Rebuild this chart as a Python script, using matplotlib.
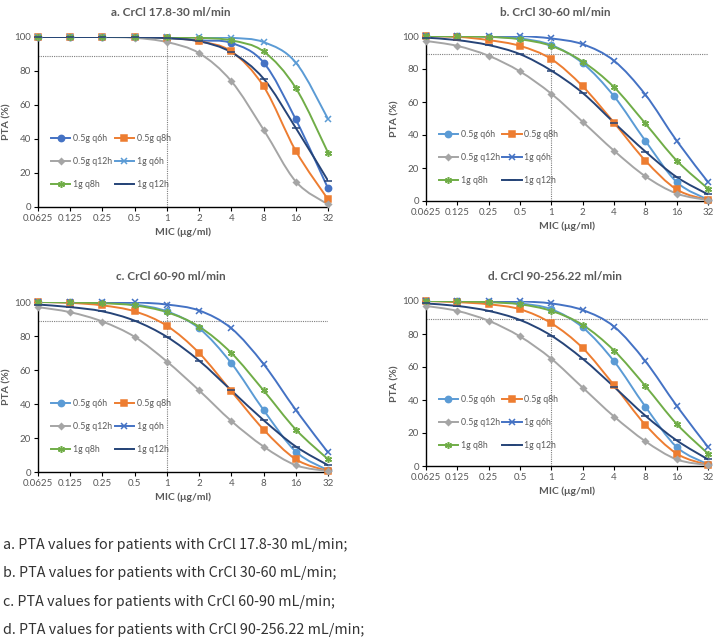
import matplotlib

matplotlib.use("Agg")

import matplotlib.pyplot as plt
import numpy as np
from matplotlib.lines import Line2D
from matplotlib.patches import PathPatch
from matplotlib.path import Path

plt.rcParams["font.family"] = ["Lato", "DejaVu Sans"]

W, H = 716, 640

MIC = ["0.0625", "0.125", "0.25", "0.5", "1", "2", "4", "8", "16", "32"]
REGIMENS = ["0.5g q6h", "0.5g q8h", "0.5g q12h", "1g q6h", "1g q8h", "1g q12h"]
TARGET = 89

# PTA (%) per regimen
a_05q6 = [100, 100, 100, 100, 99.5, 98, 96.5, 85, 51.5, 11]
a_05q8 = [100, 100, 100, 100, 99.5, 97.5, 91.5, 71, 33, 4.5]
a_05q12 = [100, 100, 100, 99.5, 97, 90.5, 74, 45.5, 15, 1.5]
a_1q6 = [100, 100, 100, 100, 100, 99.8, 99.5, 97, 85, 51.8]
a_1q8 = [100, 100, 100, 100, 99.8, 99.5, 98, 91.5, 70, 32]
a_1q12 = [100, 100, 100, 100, 99.3, 97.5, 91, 75.5, 46.5, 15.5]

b_05q6 = [100, 99.8, 99.5, 98.5, 94.5, 83.5, 63.5, 36.5, 11.5, 0.8]
b_05q8 = [99.8, 99.5, 97.5, 94, 86, 69.5, 47.5, 24.5, 7, 0.5]
b_05q12 = [97, 94, 88, 78.5, 65, 48, 30.5, 15, 4.5, 0.5]
b_1q6 = [100, 100, 100, 100, 98.5, 95, 85, 64.5, 36.5, 11.5]
b_1q8 = [100, 99.8, 99.5, 98, 94, 84.5, 69, 47, 24.5, 7.5]
b_1q12 = [99, 97.5, 94.5, 89, 79, 65.5, 47.5, 30, 14.5, 4]

c_05q6 = [100, 99.8, 99.5, 98.5, 94.5, 84.5, 64, 36.5, 12, 1]
c_05q8 = [100, 99.5, 98, 94.5, 86, 70, 47.5, 25, 7.5, 0.5]
c_05q12 = [97, 94, 88.5, 79.5, 65, 48, 30, 15, 4, 0.5]
c_1q6 = [100, 100, 100, 99.8, 98.5, 95, 84.5, 63.5, 36.5, 11.5]
c_1q8 = [100, 99.8, 99.3, 98, 94, 85.5, 70, 48, 25, 7.5]
c_1q12 = [98.5, 97, 94.5, 89, 79.5, 65.5, 48, 30.5, 15, 4]

d_05q6 = [100, 99.8, 99.5, 98.5, 95, 84, 63.5, 36, 11.5, 1]
d_05q8 = [100, 99.3, 98, 95, 86.5, 71.5, 49, 25, 7.5, 0.5]
d_05q12 = [97, 94, 88, 78.5, 65, 47.5, 30, 15, 4, 0.5]
d_1q6 = [100, 100, 100, 99.8, 98.5, 94.5, 84.5, 63.5, 36.5, 11.5]
d_1q8 = [100, 99.8, 99.3, 98, 94, 85.5, 70, 48.5, 25.5, 7.5]
d_1q12 = [98.5, 97, 94, 88.5, 79, 65, 48, 30.5, 15.5, 4]

TITLES = [
    "a. CrCl 17.8-30 ml/min",
    "b. CrCl 30-60 ml/min",
    "c. CrCl 60-90 ml/min",
    "d. CrCl 90-256.22 ml/min",
]
CAPTIONS = [
    "a. PTA values for patients with CrCl 17.8-30 mL/min;",
    "b. PTA values for patients with CrCl 30-60 mL/min;",
    "c. PTA values for patients with CrCl 60-90 mL/min;",
    "d. PTA values for patients with CrCl 90-256.22 mL/min;",
]

PANELS = [
    [a_05q6, a_05q8, a_05q12, a_1q6, a_1q8, a_1q12],
    [b_05q6, b_05q8, b_05q12, b_1q6, b_1q8, b_1q12],
    [c_05q6, c_05q8, c_05q12, c_1q6, c_1q8, c_1q12],
    [d_05q6, d_05q8, d_05q12, d_1q6, d_1q8, d_1q12],
]

DARK_BLUE, LIGHT_BLUE = "#4472C4", "#5B9BD5"
MARKERS = ["o", "s", "D", "x", (6, 2, 0), "_"]
MSIZE = [4.5, 4.5, 3, 4.5, 5, 6]
# panel a swaps the two blues
COLORS_A = [DARK_BLUE, "#ED7D31", "#A5A5A5", LIGHT_BLUE, "#70AD47", "#264478"]
COLORS_B = [LIGHT_BLUE, "#ED7D31", "#A5A5A5", DARK_BLUE, "#70AD47", "#264478"]

# axes boxes in pixels: left, top, right, bottom
BOXES = [(38, 37, 328, 207), (426, 36, 708, 201), (38, 302, 328, 472), (426, 301, 708, 466)]
TITLE_POS = [(171, 12), (555, 12), (171, 277), (555, 276)]


def smooth_path(x, y):
    # Excel-like smoothed line: Catmull-Rom through the points as cubic Beziers
    pts = np.column_stack([x, y]).astype(float)
    n = len(pts)
    verts = [pts[0]]
    codes = [Path.MOVETO]
    for i in range(n - 1):
        p0 = pts[max(i - 1, 0)]
        p1 = pts[i]
        p2 = pts[i + 1]
        p3 = pts[min(i + 2, n - 1)]
        verts += [p1 + (p2 - p0) / 6, p2 - (p3 - p1) / 6, p2]
        codes += [Path.CURVE4] * 3
    return Path(verts, codes)


fig = plt.figure(figsize=(W / 100, H / 100), dpi=100)
x = np.arange(len(MIC))

for k, (series, box) in enumerate(zip(PANELS, BOXES)):
    l, t, r, b = box
    ax = fig.add_axes([l / W, 1 - b / H, (r - l) / W, (b - t) / H])
    colors = COLORS_A if k == 0 else COLORS_B

    ax.axhline(TARGET, color="#7f7f7f", ls=(0, (1, 1)), lw=0.8, zorder=1)
    ax.axvline(4, color="#7f7f7f", ls=(0, (1, 1)), lw=0.8, zorder=1)

    handles = []
    for vals, c, m, ms, name in zip(series, colors, MARKERS, MSIZE, REGIMENS):
        ax.add_patch(PathPatch(smooth_path(x, vals), fill=False, edgecolor=c, lw=1.4, zorder=3))
        ax.plot(x, vals, ls="none", marker=m, ms=ms, color=c, mec=c, mew=1.1, zorder=4, clip_on=False)
        handles.append(Line2D([], [], color=c, lw=1.4, marker=m, ms=ms, mew=1.1))

    order = [0, 2, 4, 1, 3, 5]
    ax.legend(
        [handles[i] for i in order],
        [REGIMENS[i] for i in order],
        ncol=2,
        loc="center left",
        bbox_to_anchor=(0.045, 0.265),
        frameon=False,
        fontsize=6.3,
        labelcolor="#595959",
        labelspacing=1.6,
        handlelength=2.2,
        handletextpad=0.3,
        columnspacing=0.3,
        borderpad=0,
        borderaxespad=0,
    )

    ax.set_xlim(0, 9)
    ax.set_ylim(0, 100)
    ax.set_xticks(x)
    ax.set_xticklabels(MIC)
    ax.set_yticks([0, 20, 40, 60, 80, 100])
    ax.tick_params(labelsize=7, labelcolor="#595959", length=3, width=0.8, pad=2)
    for side in ["top", "right"]:
        ax.spines[side].set_visible(False)
    for side in ["left", "bottom"]:
        ax.spines[side].set_linewidth(1.0)
    ax.set_ylabel("PTA (%)", fontsize=7.5, fontweight="bold", color="#595959", labelpad=2)
    ax.set_xlabel("MIC (\u03bcg/ml)", fontsize=7.5, fontweight="bold", color="#595959", labelpad=3)

    tx, ty = TITLE_POS[k]
    fig.text(tx / W, 1 - ty / H, TITLES[k], ha="center", va="center",
             fontsize=8.5, fontweight="bold", color="#595959")

for i, cap in enumerate(CAPTIONS):
    fig.text(3 / W, 1 - (545 + 28.4 * i) / H, cap, ha="left", va="center", fontsize=10.3,
             color="#333333", family=["Noto Sans CJK SC", "DejaVu Sans"])

fig.savefig("out.png", dpi=100)
